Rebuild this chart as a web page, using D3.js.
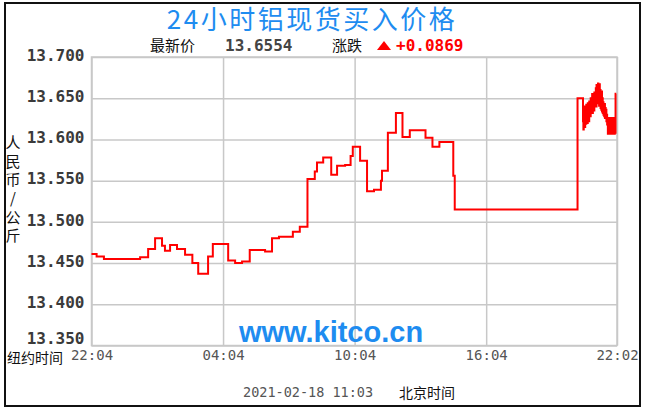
<!DOCTYPE html>
<html><head><meta charset="utf-8">
<script src="https://cdn.jsdelivr.net/npm/d3@7"></script>
<style>body{margin:0;background:#fff}svg{display:block}</style>
</head><body><svg id="c" width="645" height="412"></svg>
<script>
// ---- data ----
const titleText = "24小时铝现货买入价格";
const latestLabel = "最新价";
const latestValue = "13.6554";
const changeLabel = "涨跌";
const changeValue = "+0.0869";
const yAxisTitle = "人民币/公斤";
const xAxisTitle = "纽约时间";
const dateText = "2021-02-18 11:03";
const dateSuffix = "北京时间";
const watermark = "www.kitco.cn";
const yTicks = [13.35, 13.40, 13.45, 13.50, 13.55, 13.60, 13.65, 13.70];
const xTickMinutes = [0, 360, 720, 1080, 1438];
const xTickLabels = ["22:04", "04:04", "10:04", "16:04", "22:02"];
// minutes after 22:04 (New York time)
const minutes = [0,14,34,133,155,174,193,201,215,234,256,276,292,319,332,374,393,412,433,475,494,513,551,570,591,611,617,634,656,672,694,709,715,735,754,773,792,795,811,833,851,871,914,933,952,990,994,1330,
1345,1346,1347,1348,1349,1350,1351,1352,1353,1354,1355,1356,
1357,1358,1359,1360,1361,1362,1363,1364,
1365,1366,1367,1368,1369,1370,1371,1372,1373,1374,1375,1376,1377,1378,
1379,1380,1381,1382,1383,1384,1385,1386,1387,1388,1389,1390,1391,1392,1393,1394,
1395,1396,1397,1398,1399,
1400,1401,1402,1403,1404,1405,1406,1407,1408,1409,1410,
1411,1412,
1413,1414,1415,1416,1417,1418,1419,1420,1421,1422,1423,1424,1425,1426,1427,1428,1429,1430,1431,1432,1433,1434,1436];
const prices = [13.461,13.458,13.455,13.457,13.467,13.480,13.471,13.465,13.472,13.467,13.460,13.450,13.437,13.458,13.473,13.453,13.450,13.452,13.466,13.464,13.480,13.482,13.488,13.494,13.552,13.561,13.572,13.578,13.557,13.568,13.569,13.580,13.591,13.574,13.537,13.539,13.550,13.562,13.608,13.632,13.603,13.611,13.602,13.591,13.597,13.556,13.515,13.650,
13.622,13.612,13.634,13.618,13.640,13.615,13.628,13.636,13.619,13.642,13.625,13.630,
13.620,13.644,13.626,13.638,13.622,13.646,13.630,13.641,
13.628,13.650,13.633,13.645,13.636,13.655,13.632,13.648,13.640,13.652,13.635,13.657,13.642,13.650,
13.645,13.662,13.640,13.666,13.648,13.660,13.644,13.668,13.650,13.664,13.641,13.667,13.646,13.660,13.638,13.655,
13.636,13.658,13.634,13.650,13.632,
13.645,13.630,13.640,13.628,13.643,13.626,13.638,13.627,13.636,13.622,13.630,
13.618,13.626,
13.607,13.626,13.608,13.625,13.607,13.626,13.607,13.625,13.608,13.626,13.607,13.625,13.607,13.626,13.608,13.625,13.607,13.626,13.607,13.625,13.608,13.6554,13.6554];

// ---- layout ----
const x0 = 91.5, x1 = 617, yTop = 57, yBot = 345.5;
const svg = d3.select("#c");
const x = d3.scaleLinear().domain([0, 1438]).range([x0, x1]);
const y = d3.scaleLinear().domain([13.35, 13.70]).range([yBot, yTop]);

svg.append("rect").attr("x", 5).attr("y", 3).attr("width", 635).attr("height", 403)
  .attr("fill", "#fff").attr("stroke", "#111").attr("stroke-width", 2);

// title
svg.append("text").attr("x", 312).attr("y", 29).attr("text-anchor", "middle")
  .attr("font-family", "Noto Sans CJK SC").attr("font-size", 26).attr("letter-spacing", 2.5)
  .attr("fill", "#1e8cf0").text(titleText);

// subtitle row
const sub = svg.append("g");
sub.append("text").attr("x", 150).attr("y", 51).attr("font-family", "Noto Sans CJK SC")
  .attr("font-size", 15).attr("fill", "#111").text(latestLabel);
sub.append("text").attr("x", 225).attr("y", 51).attr("font-family", "DejaVu Sans Mono")
  .attr("font-weight", "bold").attr("font-size", 16).attr("fill", "#444").text(latestValue);
sub.append("text").attr("x", 332).attr("y", 51).attr("font-family", "Noto Sans CJK SC")
  .attr("font-size", 15).attr("fill", "#111").text(changeLabel);
sub.append("path").attr("d", "M377,50 L384,41 L391,50 Z").attr("fill", "#ff0000");
sub.append("text").attr("x", 396).attr("y", 51).attr("font-family", "DejaVu Sans Mono")
  .attr("font-weight", "bold").attr("font-size", 16).attr("fill", "#ff0000").text(changeValue);

// axes / grid
const gy = svg.append("g").attr("transform", `translate(${x0},0)`)
  .call(d3.axisLeft(y).tickValues(yTicks).tickSize(-(x1 - x0)).tickPadding(7).tickFormat(d3.format(".3f")));
gy.select(".domain").remove();
gy.selectAll(".tick line").attr("stroke", "#c8c8c8").attr("stroke-width", 1.5);
gy.selectAll(".tick text").attr("font-family", "DejaVu Sans Mono").attr("font-weight", "bold")
  .attr("font-size", 16).attr("fill", "#3a3a3a").attr("dy", "0.2em");
// lowest label sits a little higher, clear of the time row
gy.selectAll(".tick").filter(d => d === yTicks[0]).select("text").attr("dy", "-0.15em");

const gx = svg.append("g").attr("transform", `translate(0,${yBot})`)
  .call(d3.axisBottom(x).tickValues(xTickMinutes).tickSize(-(yBot - yTop)).tickPadding(5)
    .tickFormat((d, i) => xTickLabels[i]));
gx.select(".domain").remove();
gx.selectAll(".tick line").attr("stroke", "#c8c8c8").attr("stroke-width", 1.5);
gx.selectAll(".tick text").attr("font-family", "DejaVu Sans Mono").attr("font-size", 14)
  .attr("fill", "#555");

// plot frame
svg.append("rect").attr("x", x0).attr("y", yTop).attr("width", x1 - x0).attr("height", yBot - yTop)
  .attr("fill", "none").attr("stroke", "#c8c8c8").attr("stroke-width", 1.5);

// watermark
svg.append("text").attr("x", 331).attr("y", 342).attr("text-anchor", "middle")
  .attr("font-family", "Liberation Sans").attr("font-weight", "bold").attr("font-size", 29)
  .attr("fill", "#1e8cf0").text(watermark);

// y axis title (vertical text)
svg.append("text").attr("x", 13).attr("y", 135)
  .attr("font-family", "Noto Sans CJK SC").attr("font-size", 15).attr("fill", "#111")
  .attr("letter-spacing", 3.6)
  .style("writing-mode", "vertical-rl").style("text-orientation", "upright")
  .text(yAxisTitle);

// x axis title
svg.append("text").attr("x", 7).attr("y", 363).attr("font-family", "Noto Sans CJK SC")
  .attr("font-size", 14).attr("fill", "#111").text(xAxisTitle);

// date
svg.append("text").attr("x", 243).attr("y", 397).attr("font-family", "DejaVu Sans Mono")
  .attr("font-size", 13.5).attr("fill", "#555").text(dateText);
svg.append("text").attr("x", 399).attr("y", 398).attr("font-family", "Noto Sans CJK SC")
  .attr("font-size", 14).attr("fill", "#111").text(dateSuffix);

// line
const data = minutes.map((m, i) => ({ m, p: prices[i] }));
const line = d3.line().x(d => x(d.m)).y(d => y(d.p)).curve(d3.curveStepAfter);
svg.append("path").datum(data).attr("d", line).attr("fill", "none")
  .attr("stroke", "#ff0000").attr("stroke-width", 2).attr("stroke-linejoin", "miter");
</script></body></html>
